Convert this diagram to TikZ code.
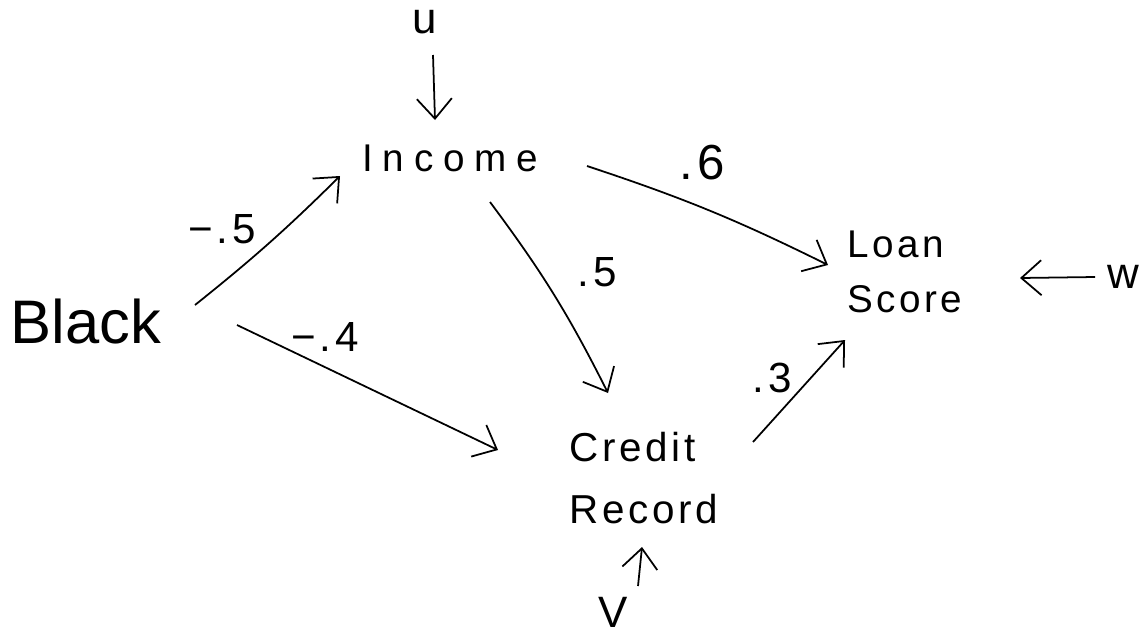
\documentclass[tikz,border=0pt]{standalone}
\usepackage{fontspec}
\setmainfont{Liberation Sans}
\newfontfamily\handwide{Liberation Sans}[LetterSpace=25]
\newfontfamily\hand{Liberation Sans}[LetterSpace=9]
\usetikzlibrary{arrows.meta}
\tikzset{
  var/.style={inner sep=0pt, font=\hand\fontsize{23}{33}\selectfont, align=left},
  bigvar/.style={inner sep=0pt, font=\fontsize{35}{40}\selectfont},
  noise/.style={inner sep=0pt, font=\fontsize{25}{30}\selectfont},
  coef/.style={inner sep=0pt, font=\hand\fontsize{24}{28}\selectfont},
  causal/.style={-{Straight Barb[length=4mm,width=7mm]}, line width=1pt},
}

\begin{document}
\begin{tikzpicture}[x=0.02cm, y=-0.02cm]
    \useasboundingbox (0,0) rectangle (1145,643);
    % ---------------- variables ----------------
    \node[bigvar] (black) at (86,322) {Black};
    \node[var, font=\handwide\fontsize{22}{30}\selectfont] (income) at (450,158) {Income};
    \node[var, font=\hand\fontsize{22}{31}\selectfont] (loan) at (905,272) {Loan\\Score};
    \node[var, font=\hand\fontsize{23}{35}\selectfont] (credit) at (644,478) {Credit\\Record};
    % ---------------- exogenous noise ----------------
    \node[noise] (u) at (425,22) {u};
    \node[noise] (w) at (1123,277) {w};
    \node[noise] (v) at (613,612) {V};
    \draw[causal] ([shift={(8,33)}]u.center) -- ([shift={(-15,-38)}]income.center);
    \draw[causal] ([shift={(-28,0)}]w.center) -- ([shift={(115,6)}]loan.center);
    \draw[causal] ([shift={(25,-26)}]v.center) -- ([shift={(-2,69)}]credit.center);
    % ---------------- causal paths ----------------
    \draw[causal] ([shift={(109,-17)}]black.center) to[bend right=3]
      ([shift={(-110,18)}]income.center);
    \draw[causal] ([shift={(151,3)}]black.center) --
      ([shift={(-146,-28)}]credit.center);
    \draw[causal] ([shift={(137,8)}]income.center) to[bend left=4]
      ([shift={(-77,-7)}]loan.center);
    \draw[causal] ([shift={(40,44)}]income.center) to[bend left=5]
      ([shift={(-36,-85)}]credit.center);
    \draw[causal] ([shift={(109,-36)}]credit.center) --
      ([shift={(-60,68)}]loan.center);
    % ---------------- path coefficients ----------------
    \node[coef] (cbi) at (222,229) {−.5};
    \node[coef] (cbc) at (325,337) {−.4};
    \node[coef, font=\hand\fontsize{28}{30}\selectfont] (cil) at (702,163) {.6};
    \node[coef] (cic) at (597,272) {.5};
    \node[coef] (ccl) at (772,378) {.3};
  \end{tikzpicture}
\end{document}
